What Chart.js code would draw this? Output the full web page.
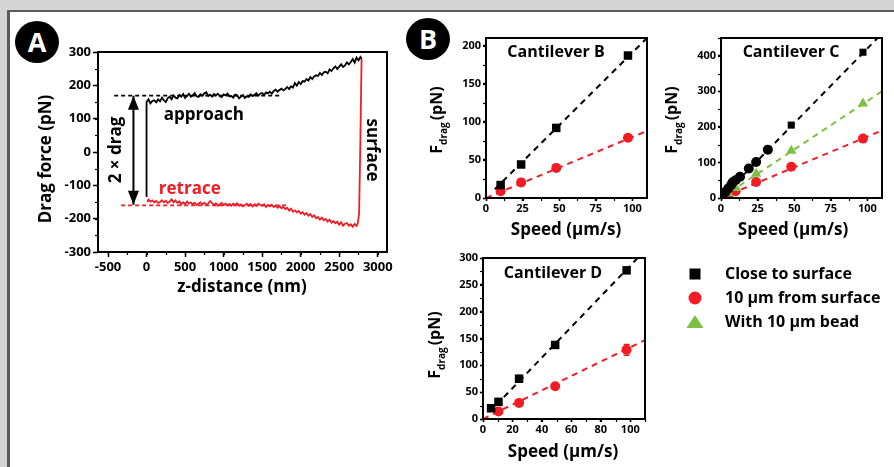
<!DOCTYPE html>
<html><head><meta charset="utf-8">
<script src="https://cdn.jsdelivr.net/npm/chart.js@4.4.0/dist/chart.umd.min.js"></script>
<style>
html,body{margin:0;padding:0;}
body{width:894px;height:467px;background:#d4d4d4;position:relative;overflow:hidden;font-family:"Open Sans",sans-serif;}
#sheet{position:absolute;left:7px;top:10px;width:887px;height:457px;background:#fff;border-left:3px solid #5a5a5a;border-top:2px solid #5a5a5a;box-sizing:border-box;}
.badge{position:absolute;width:44px;height:42px;border-radius:50%;background:#000;color:#fff;font:bold 27px "Open Sans",sans-serif;text-align:center;line-height:42px;}
canvas{position:absolute;}
</style></head>
<body>
<div id="sheet"></div>
<div class="badge" style="left:15px;top:21px">A</div>
<div class="badge" style="left:406px;top:18px">B</div>
<canvas id="cA" width="390" height="288" style="left:10px;top:12px"></canvas>
<canvas id="cB" width="250" height="233" style="left:405px;top:12px"></canvas>
<canvas id="cC" width="239" height="233" style="left:655px;top:12px"></canvas>
<canvas id="cD" width="489" height="222" style="left:405px;top:245px"></canvas>
<script>
// ---------------- DATA ----------------
// Panel A: drag force trace [z-distance nm, force pN]
const approach = [[0,-135],[0,150],[25,158],[50,146],[75,153],[100,155],[125,149],[150,158],[175,152],[200,163],[225,155],[250,150],[275,162],[300,166],[325,158],[350,170],[375,163],[400,161],[425,171],[450,166],[475,174],[500,162],[525,168],[550,175],[575,166],[600,170],[625,177],[650,167],[675,165],[700,173],[725,169],[750,176],[775,179],[800,168],[825,172],[850,166],[875,174],[900,170],[925,175],[950,168],[975,165],[1000,173],[1025,170],[1050,175],[1075,167],[1100,168],[1125,163],[1150,172],[1175,170],[1200,161],[1225,166],[1250,171],[1275,162],[1300,167],[1325,165],[1350,173],[1375,168],[1400,172],[1425,176],[1450,169],[1475,175],[1500,177],[1525,171],[1550,179],[1575,176],[1600,181],[1625,175],[1650,183],[1675,187],[1700,181],[1725,186],[1750,190],[1775,185],[1800,189],[1825,195],[1850,189],[1875,197],[1900,193],[1925,207],[1950,199],[1975,210],[2000,204],[2025,213],[2050,211],[2075,219],[2100,214],[2125,225],[2150,219],[2175,227],[2200,230],[2225,228],[2250,237],[2275,231],[2300,239],[2325,241],[2350,236],[2375,248],[2400,243],[2425,251],[2450,257],[2475,249],[2500,256],[2525,263],[2550,255],[2575,260],[2600,269],[2625,263],[2650,270],[2675,279],[2700,268],[2725,283],[2750,275],[2775,285],[2790,280]];
const retrace = [[2790,280],[2772,0],[2758,-185],[2740,-214],[2725,-222],[2700,-216],[2675,-224],[2650,-217],[2625,-221],[2600,-213],[2575,-215],[2550,-221],[2525,-211],[2500,-218],[2475,-209],[2450,-214],[2425,-207],[2400,-212],[2375,-203],[2350,-209],[2325,-201],[2300,-205],[2275,-197],[2250,-203],[2225,-195],[2200,-199],[2175,-190],[2150,-195],[2125,-186],[2100,-191],[2075,-183],[2050,-188],[2025,-180],[2000,-185],[1975,-177],[1950,-181],[1925,-175],[1900,-179],[1875,-170],[1850,-176],[1825,-167],[1800,-171],[1775,-165],[1750,-169],[1725,-162],[1700,-167],[1675,-161],[1650,-165],[1625,-158],[1600,-163],[1575,-159],[1550,-165],[1525,-157],[1500,-161],[1475,-159],[1450,-155],[1425,-162],[1400,-157],[1375,-163],[1350,-156],[1325,-161],[1300,-155],[1275,-160],[1250,-163],[1225,-157],[1200,-161],[1175,-154],[1150,-159],[1125,-155],[1100,-161],[1075,-156],[1050,-160],[1025,-155],[1000,-159],[975,-153],[950,-157],[925,-161],[900,-154],[875,-159],[850,-153],[825,-147],[800,-154],[775,-159],[750,-152],[725,-157],[700,-151],[675,-155],[650,-159],[625,-152],[600,-157],[575,-151],[550,-155],[525,-149],[500,-156],[475,-151],[450,-157],[425,-148],[400,-153],[375,-145],[350,-151],[325,-142],[300,-149],[275,-153],[250,-146],[225,-151],[200,-145],[175,-150],[150,-153],[125,-147],[100,-151],[75,-145],[50,-149],[25,-143],[10,-150]];
const approachLevel = [[-420,169],[1760,169]];
const retraceLevel = [[-330,-160],[1830,-160]];
const dragArrow = {z:-170, top:169, bottom:-158};
const ticksAx = [-500, 0, 500, 1000, 1500, 2000, 2500, 3000];
const labelsA = {approach:'approach', retrace:'retrace', drag:'2 × drag', surface:'surface'};
const axisA = {x:'z-distance (nm)', y:'Drag force (pN)'};

// Panel B/C/D: drag force vs speed
const speedTitle = 'Speed (µm/s)';
const forceTitle = {main:'F', sub:'drag', unit:'(pN)'};
const seriesNames = ['Close to surface','10 µm from surface','With 10 µm bead'];

const bSpeed = [10, 24, 48, 97];
const bClose = [17, 44, 92, 187];
const bFar   = [9, 20.5, 39.5, 79];
const bFitClose = [[6,11.5],[110,210]];
const bFitFar   = [[0,0],[110,88]];

const cCloseSpeed = [1, 3, 5, 7, 8, 10, 13, 19, 24, 32, 48, 97];
const cClose      = [12, 17, 27, 37, 44, 50, 60, 83, 101, 136, 205, 410];
const cBeadSpeed  = [5, 10, 24, 48, 97];
const cBead       = [14, 28, 68, 133, 266];
const cFarSpeed   = [5, 10, 24, 48, 97];
const cFar        = [8, 19, 45, 88, 167];
const cFitClose = [[0,0],[107,450]];
const cFitBead  = [[0,0],[110,300]];
const cFitFar   = [[0,0],[110,190]];

const dCloseSpeed = [5.5, 10.5, 24.5, 49, 97.5];
const dClose      = [20, 32, 75, 138, 277];
const dCloseErr   = [0, 0, 6, 0, 0];
const dFarSpeed   = [10.5, 24.5, 49, 97.5];
const dFar        = [14, 30, 61, 129];
const dFarErr     = [0, 0, 0, 10];
const dFitClose = [[9,26],[105,300]];
const dFitFar   = [[0,0],[110,147]];

// ---------------- STYLE ----------------
const FONT = '"Open Sans", sans-serif';
const BLACK = '#000000', RED = '#f11c24', GREEN = '#7cc143';

const pts = (xs, ys) => xs.map((x, i) => ({x, y: ys[i]}));
const pairs = arr => arr.map(p => ({x: p[0], y: p[1]}));

function drawText(ctx, t){
  ctx.save();
  ctx.translate(t.px, t.py);
  if (t.rot) ctx.rotate(t.rot * Math.PI / 180);
  ctx.font = 'bold ' + t.size + 'px ' + FONT;
  ctx.fillStyle = t.color || '#000';
  ctx.textAlign = t.align || 'center'; ctx.textBaseline = 'middle';
  ctx.fillText(t.text, 0, 0);
  ctx.restore();
}

const deco = {
  id: 'deco',
  afterDatasetsDraw(chart, args, o){
    const ctx = chart.ctx;
    const sx = chart.scales.x, sy = chart.scales.y;
    ctx.save();
    chart.data.datasets.forEach(ds => {
      if (!ds.errY) return;
      ds.data.forEach((p, i) => {
        const e = ds.errY[i]; if (!e) return;
        const px = sx.getPixelForValue(p.x);
        const y1 = sy.getPixelForValue(p.y + e), y2 = sy.getPixelForValue(p.y - e);
        ctx.strokeStyle = ds.borderColor; ctx.lineWidth = 1.5;
        ctx.beginPath();
        ctx.moveTo(px, y1); ctx.lineTo(px, y2);
        ctx.moveTo(px - 3, y1); ctx.lineTo(px + 3, y1);
        ctx.moveTo(px - 3, y2); ctx.lineTo(px + 3, y2);
        ctx.stroke();
      });
    });
    if (o.arrow) {
      const px = sx.getPixelForValue(o.arrow.z);
      const t = sy.getPixelForValue(o.arrow.top), b = sy.getPixelForValue(o.arrow.bottom);
      ctx.fillStyle = '#000';
      ctx.beginPath(); ctx.moveTo(px, t); ctx.lineTo(px - 5.5, t + 14); ctx.lineTo(px + 5.5, t + 14); ctx.closePath(); ctx.fill();
      ctx.beginPath(); ctx.moveTo(px, b); ctx.lineTo(px - 5.5, b - 14); ctx.lineTo(px + 5.5, b - 14); ctx.closePath(); ctx.fill();
    }
    ctx.restore();
  },
  afterDraw(chart, args, o){
    const ctx = chart.ctx, a = chart.chartArea;
    const sx = chart.scales.x, sy = chart.scales.y;
    ctx.save();
    ctx.strokeStyle = '#000'; ctx.lineWidth = 1.2;
    if (o.minorX) {
      for (let v = Math.ceil(sx.min / o.minorX) * o.minorX; v <= sx.max + 1e-9; v += o.minorX) {
        const px = Math.round(sx.getPixelForValue(v)) + 0.5;
        ctx.beginPath(); ctx.moveTo(px, a.bottom); ctx.lineTo(px, a.bottom + 3); ctx.stroke();
      }
    }
    if (o.minorY) {
      for (let v = Math.ceil(sy.min / o.minorY) * o.minorY; v <= sy.max + 1e-9; v += o.minorY) {
        const py = Math.round(sy.getPixelForValue(v)) + 0.5;
        ctx.beginPath(); ctx.moveTo(a.left, py); ctx.lineTo(a.left - 3, py); ctx.stroke();
      }
    }
    ctx.lineWidth = 2;
    ctx.strokeRect(a.left, a.top, a.right - a.left, a.bottom - a.top);
    (o.notes || []).forEach(n => {
      const t = Object.assign({}, n);
      if (n.x !== undefined) { t.px = sx.getPixelForValue(n.x); t.py = sy.getPixelForValue(n.y); }
      drawText(ctx, t);
    });
    if (o.ftitle) {
      ctx.save();
      ctx.translate(o.ftitle.px, o.ftitle.py);
      ctx.rotate(-Math.PI / 2);
      ctx.fillStyle = '#000'; ctx.textBaseline = 'alphabetic'; ctx.textAlign = 'left';
      const big = 'bold 16px ' + FONT, small = 'bold 10px ' + FONT;
      ctx.font = big; const wF = ctx.measureText(forceTitle.main).width;
      const wU = ctx.measureText(forceTitle.unit).width;
      ctx.font = small; const wS = ctx.measureText(forceTitle.sub).width;
      let x = -(wF + wS + 2 + wU) / 2;
      ctx.font = big; ctx.fillText(forceTitle.main, x, 0); x += wF;
      ctx.font = small; ctx.fillText(forceTitle.sub, x, 5); x += wS + 2;
      ctx.font = big; ctx.fillText(forceTitle.unit, x, 0);
      ctx.restore();
    }
    if (o.legend) {
      const L = o.legend;
      L.items.forEach((it, i) => {
        const y = L.y + i * L.gap, x = L.x;
        ctx.fillStyle = it.color;
        ctx.beginPath();
        if (it.shape === 'rect') ctx.rect(x - 5.5, y - 5.5, 11, 11);
        else if (it.shape === 'circle') ctx.arc(x, y, 6.5, 0, Math.PI * 2);
        else { ctx.moveTo(x, y - 7); ctx.lineTo(x + 8.5, y + 6); ctx.lineTo(x - 8.5, y + 6); ctx.closePath(); }
        ctx.fill();
        drawText(ctx, {text: it.text, px: L.tx, py: y, size: 16, color: '#000', align: 'left'});
      });
    }
    ctx.restore();
  }
};

function place(cv, area){
  return {
    padding: {left: 0, top: area.t, right: cv.width - area.r, bottom: 0},
    yFit: s => { s.width = area.l; },
    xFit: s => { s.height = cv.height - area.b; }
  };
}

function axis(fit, min, max, step, size, tl, pad, fixedTicks){
  const ax = {
    type: 'linear', min, max, afterFit: fit,
    border: {display: true, color: '#000', width: 2},
    grid: {drawOnChartArea: false, drawTicks: true, tickLength: tl, tickColor: '#000', tickWidth: 1.5},
    ticks: {stepSize: step, includeBounds: false, color: '#000', padding: pad,
            font: {family: FONT, size: size, weight: 'bold'}, maxRotation: 0, autoSkip: false,
            callback: v => String(v)},
    title: {display: false}
  };
  if (fixedTicks) ax.afterBuildTicks = s => { s.ticks = fixedTicks.map(v => ({value: v})); };
  return ax;
}

function baseOptions(p, xAx, yAx, d){
  return {
    responsive: false, animation: false, devicePixelRatio: 1,
    layout: {padding: p.padding},
    plugins: {legend: {display: false}, tooltip: {enabled: false}, deco: d},
    scales: {x: xAx, y: yAx},
    elements: {line: {tension: 0}}
  };
}

function lineDs(data, color, width, dash){
  return {data: data, showLine: true, borderColor: color, backgroundColor: color, borderWidth: width,
          borderDash: dash || [], pointRadius: 0, fill: false};
}
function markDs(data, color, style, r, extra){
  return Object.assign({data: data, showLine: false, pointStyle: style, pointRadius: r,
          backgroundColor: color, borderColor: color, borderWidth: 0}, extra || {});
}

// ---------------- PANEL A ----------------
(function(){
  const cv = document.getElementById('cA');
  const p = place(cv, {l: 88, t: 40, r: 377, b: 240});
  const opts = baseOptions(p,
    axis(p.xFit, -630, 3120, 500, 13, 5, 2, ticksAx),
    axis(p.yFit, -300, 300, 100, 13, 5, 2),
    {
      minorX: 250, minorY: 50, arrow: dragArrow,
      notes: [
        {text: labelsA.approach, x: 744, y: 111, size: 17, color: BLACK},
        {text: labelsA.retrace, x: 561, y: -111, size: 17, color: RED},
        {text: labelsA.drag, x: -392, y: 6, size: 17, color: BLACK, rot: -90},
        {text: labelsA.surface, x: 2924, y: 6, size: 17, color: BLACK, rot: 90},
        {text: axisA.y, px: 36, py: 147, size: 17, rot: -90},
        {text: axisA.x, px: 232, py: 275, size: 17}
      ]
    });
  new Chart(cv, {type: 'scatter', data: {datasets: [
    lineDs(pairs(approach), BLACK, 1.8),
    lineDs(pairs(retrace), RED, 1.8),
    lineDs(pairs(approachLevel), BLACK, 1.6, [4, 3]),
    lineDs(pairs(retraceLevel), RED, 1.6, [4, 3]),
    lineDs([{x: dragArrow.z, y: dragArrow.top}, {x: dragArrow.z, y: dragArrow.bottom}], BLACK, 2)
  ]}, options: opts, plugins: [deco]});
})();

// ---------------- PANEL B ----------------
(function(){
  const cv = document.getElementById('cB');
  const p = place(cv, {l: 81, t: 26, r: 242, b: 186});
  const opts = baseOptions(p,
    axis(p.xFit, 0, 110, 25, 11, 3, 1),
    axis(p.yFit, 0, 210, 50, 11, 3, 2),
    {
      minorX: 12.5, minorY: 25, ftitle: {px: 37, py: 108},
      notes: [
        {text: 'Cantilever B', px: 151, py: 40, size: 16},
        {text: speedTitle, px: 161, py: 218, size: 17}
      ]
    });
  new Chart(cv, {type: 'scatter', data: {datasets: [
    markDs(pts(bSpeed, bClose), BLACK, 'rect', 6),
    markDs(pts(bSpeed, bFar), RED, 'circle', 5),
    lineDs(pairs(bFitClose), BLACK, 2, [6, 5]),
    lineDs(pairs(bFitFar), RED, 2, [6, 5])
  ]}, options: opts, plugins: [deco]});
})();

// ---------------- PANEL C ----------------
(function(){
  const cv = document.getElementById('cC');
  const p = place(cv, {l: 66, t: 26, r: 227, b: 186});
  const opts = baseOptions(p,
    axis(p.xFit, 0, 110, 25, 11, 3, 1),
    axis(p.yFit, 0, 450, 100, 11, 3, 2),
    {
      minorX: 12.5, minorY: 50, ftitle: {px: 22, py: 108},
      notes: [
        {text: 'Cantilever C', px: 136, py: 40, size: 16},
        {text: speedTitle, px: 138, py: 218, size: 17}
      ]
    });
  const cStyles = cClose.map((v, i) => i >= cClose.length - 2 ? 'rect' : 'circle');
  new Chart(cv, {type: 'scatter', data: {datasets: [
    markDs(pts(cCloseSpeed, cClose), BLACK, cStyles, 5),
    markDs(pts(cBeadSpeed, cBead), GREEN, 'triangle', 6),
    markDs(pts(cFarSpeed, cFar), RED, 'circle', 5),
    lineDs(pairs(cFitClose), BLACK, 2, [6, 5]),
    lineDs(pairs(cFitBead), GREEN, 2, [6, 5]),
    lineDs(pairs(cFitFar), RED, 2, [6, 5])
  ]}, options: opts, plugins: [deco]});
})();

// ---------------- PANEL D ----------------
(function(){
  const cv = document.getElementById('cD');
  const p = place(cv, {l: 78, t: 13, r: 240, b: 174});
  const opts = baseOptions(p,
    axis(p.xFit, 0, 110, 20, 11, 3, 1),
    axis(p.yFit, 0, 300, 50, 11, 3, 2),
    {
      minorX: 10, minorY: 25, ftitle: {px: 35, py: 100},
      notes: [
        {text: 'Cantilever D', px: 148, py: 28, size: 16},
        {text: speedTitle, px: 158, py: 207, size: 17}
      ],
      legend: {x: 290, y: 29, gap: 24, tx: 320, items: [
        {shape: 'rect', color: BLACK, text: seriesNames[0]},
        {shape: 'circle', color: RED, text: seriesNames[1]},
        {shape: 'triangle', color: GREEN, text: seriesNames[2]}
      ]}
    });
  new Chart(cv, {type: 'scatter', data: {datasets: [
    markDs(pts(dCloseSpeed, dClose), BLACK, 'rect', 6, {errY: dCloseErr}),
    markDs(pts(dFarSpeed, dFar), RED, 'circle', 5, {errY: dFarErr}),
    lineDs(pairs(dFitClose), BLACK, 2, [6, 5]),
    lineDs(pairs(dFitFar), RED, 2, [6, 5])
  ]}, options: opts, plugins: [deco]});
})();
</script>
</body></html>
